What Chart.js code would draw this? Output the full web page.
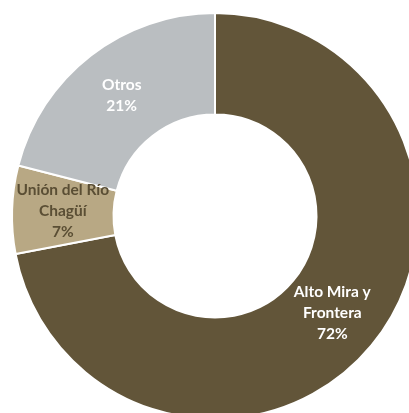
<!DOCTYPE html>
<html>
<head>
<meta charset="utf-8">
<script src="https://cdn.jsdelivr.net/npm/chart.js@4/dist/chart.umd.min.js"></script>
<style>
html,body{margin:0;padding:0;background:#fff;overflow:hidden;width:409px;height:413px;}
#wrap{position:absolute;left:0;top:0;width:430px;height:432px;}
</style>
</head>
<body>
<div id="wrap"><canvas id="c" width="430" height="432"></canvas></div>
<script>
const categories = ["Alto Mira y Frontera", "Unión del Río Chagüí", "Otros"];
const labelLines = [["Alto Mira y", "Frontera"], ["Unión del Río", "Chagüí"], ["Otros"]];
const values = [72, 7, 21];
const colors = ["#625539", "#b8a884", "#babec1"];
const labelColors = ["#ffffff", "#5a4e34", "#ffffff"];

const labelPlugin = {
  id: 'sliceLabels',
  afterDatasetsDraw(chart) {
    const ctx = chart.ctx;
    const meta = chart.getDatasetMeta(0);
    const total = values.reduce((a, b) => a + b, 0);
    ctx.save();
    ctx.font = "bold 15.5px Lato, 'Open Sans', sans-serif";
    ctx.textAlign = 'center';
    ctx.textBaseline = 'middle';
    meta.data.forEach((arc, i) => {
      const p = arc.tooltipPosition();
      const lines = labelLines[i].concat([Math.round(values[i] / total * 100) + '%']);
      const lh = 21;
      const start = p.y - (lines.length - 1) * lh / 2;
      ctx.fillStyle = labelColors[i];
      lines.forEach((t, k) => ctx.fillText(t, p.x, start + k * lh));
    });
    ctx.restore();
  }
};

new Chart(document.getElementById('c'), {
  type: 'doughnut',
  data: {
    labels: categories,
    datasets: [{
      data: values,
      backgroundColor: colors,
      borderColor: '#ffffff',
      borderWidth: 2
    }]
  },
  options: {
    responsive: false,
    animation: false,
    cutout: '50%',
    layout: { padding: 11 },
    plugins: { legend: { display: false }, tooltip: { enabled: false } }
  },
  plugins: [labelPlugin]
});
</script>
</body>
</html>
